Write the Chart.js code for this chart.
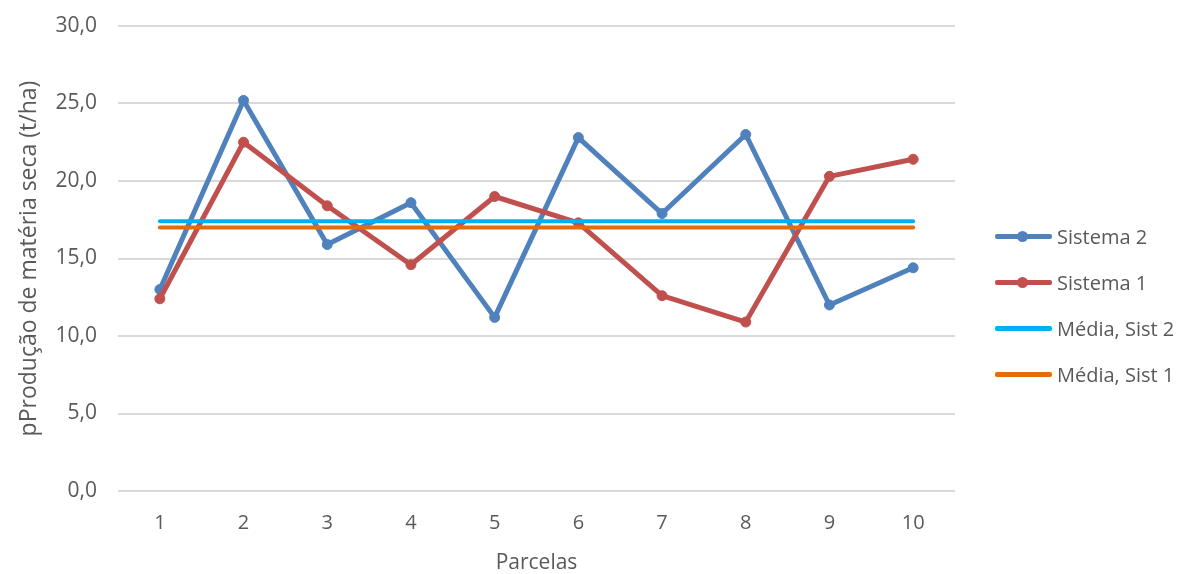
<!DOCTYPE html>
<html>
<head>
<meta charset="utf-8">
<script src="https://cdn.jsdelivr.net/npm/chart.js@4.4.1/dist/chart.umd.min.js"></script>
<style>
  html, body { margin: 0; padding: 0; background: #ffffff; }
  #wrap { position: relative; width: 1187px; height: 574px; }
  #legend { position: absolute; left: 995px; top: 213px; font-family: "Open Sans", sans-serif; font-size: 20px; color: #595959; }
  .item { position: relative; height: 46px; display: flex; align-items: center; }
  .line { position: relative; width: 57px; height: 5px; border-radius: 2px; margin-right: 5px; }
  .dot { position: absolute; left: 22px; top: -3px; width: 11px; height: 11px; border-radius: 50%; }
</style>
</head>
<body>
<div id="wrap">
  <canvas id="c" width="1187" height="574"></canvas>
  <div id="legend"></div>
</div>
<script>
const categories = ["1", "2", "3", "4", "5", "6", "7", "8", "9", "10"];
const sistema2 = [13.0, 25.2, 15.9, 18.6, 11.2, 22.8, 17.9, 23.0, 12.0, 14.4];
const sistema1 = [12.4, 22.5, 18.4, 14.6, 19.0, 17.3, 12.6, 10.9, 20.3, 21.4];
const mediaSist2 = [17.4, 17.4, 17.4, 17.4, 17.4, 17.4, 17.4, 17.4, 17.4, 17.4];
const mediaSist1 = [17.0, 17.0, 17.0, 17.0, 17.0, 17.0, 17.0, 17.0, 17.0, 17.0];
const yTicks = [0, 5, 10, 15, 20, 25, 30];
const yTitle = "pProdução de matéria seca (t/ha)";
const xTitle = "Parcelas";

const colors = { s2: "#4F81BD", s1: "#C0504D", m2: "#00B0F0", m1: "#E46C0A" };
const fontFamily = "'Open Sans', sans-serif";
const grey = "#595959";

const datasets = [
  { label: "Sistema 2", data: sistema2, borderColor: colors.s2, backgroundColor: colors.s2, borderWidth: 5, pointRadius: 5, pointBorderWidth: 1, pointHoverRadius: 5, order: 2, marker: true },
  { label: "Sistema 1", data: sistema1, borderColor: colors.s1, backgroundColor: colors.s1, borderWidth: 5, pointRadius: 5, pointBorderWidth: 1, pointHoverRadius: 5, order: 1, marker: true },
  { label: "Média, Sist 2", data: mediaSist2, borderColor: colors.m2, backgroundColor: colors.m2, borderWidth: 4, pointRadius: 0, order: 0, marker: false },
  { label: "Média, Sist 1", data: mediaSist1, borderColor: colors.m1, backgroundColor: colors.m1, borderWidth: 4, pointRadius: 0, order: 0, marker: false }
];

new Chart(document.getElementById("c"), {
  type: "line",
  data: { labels: categories, datasets: datasets.map(d => ({ ...d, tension: 0, fill: false, borderCapStyle: "round", borderJoinStyle: "round" })) },
  options: {
    responsive: false,
    animation: false,
    devicePixelRatio: 1,
    layout: { padding: { top: 26, right: 232, bottom: 0, left: 0 } },
    plugins: { legend: { display: false }, tooltip: { enabled: false } },
    scales: {
      x: {
        offset: true,
        grid: { display: false, drawTicks: false },
        border: { display: false },
        ticks: { color: grey, font: { family: fontFamily, size: 20 }, padding: 20 },
        title: { display: true, text: xTitle, color: grey, font: { family: fontFamily, size: 21, lineHeight: 1 }, padding: 0 },
        afterFit: s => { s.height = 83; s.paddingLeft = 0; s.paddingRight = 0; }
      },
      y: {
        min: 0, max: 30,
        afterBuildTicks: s => { s.ticks = yTicks.map(v => ({ value: v })); },
        grid: { color: "#d9d9d9", lineWidth: 2, drawTicks: false },
        border: { display: false },
        ticks: { color: grey, font: { family: fontFamily, size: 21 }, padding: 21,
          callback: v => Number(v).toFixed(1).replace(".", ",") },
        title: { display: true, text: yTitle, color: grey, font: { family: fontFamily, size: 23, lineHeight: 1 }, padding: { top: 18, bottom: 0 } },
        afterFit: s => { s.width = 118; s.paddingTop = 0; s.paddingBottom = 0; }
      }
    }
  }
});

const legend = document.getElementById("legend");
datasets.forEach(d => {
  const item = document.createElement("div");
  item.className = "item";
  const line = document.createElement("div");
  line.className = "line";
  line.style.background = d.borderColor;
  if (d.marker) {
    const dot = document.createElement("div");
    dot.className = "dot";
    dot.style.background = d.borderColor;
    line.appendChild(dot);
  }
  const txt = document.createElement("span");
  txt.textContent = d.label;
  item.appendChild(line);
  item.appendChild(txt);
  legend.appendChild(item);
});
</script>
</body>
</html>
